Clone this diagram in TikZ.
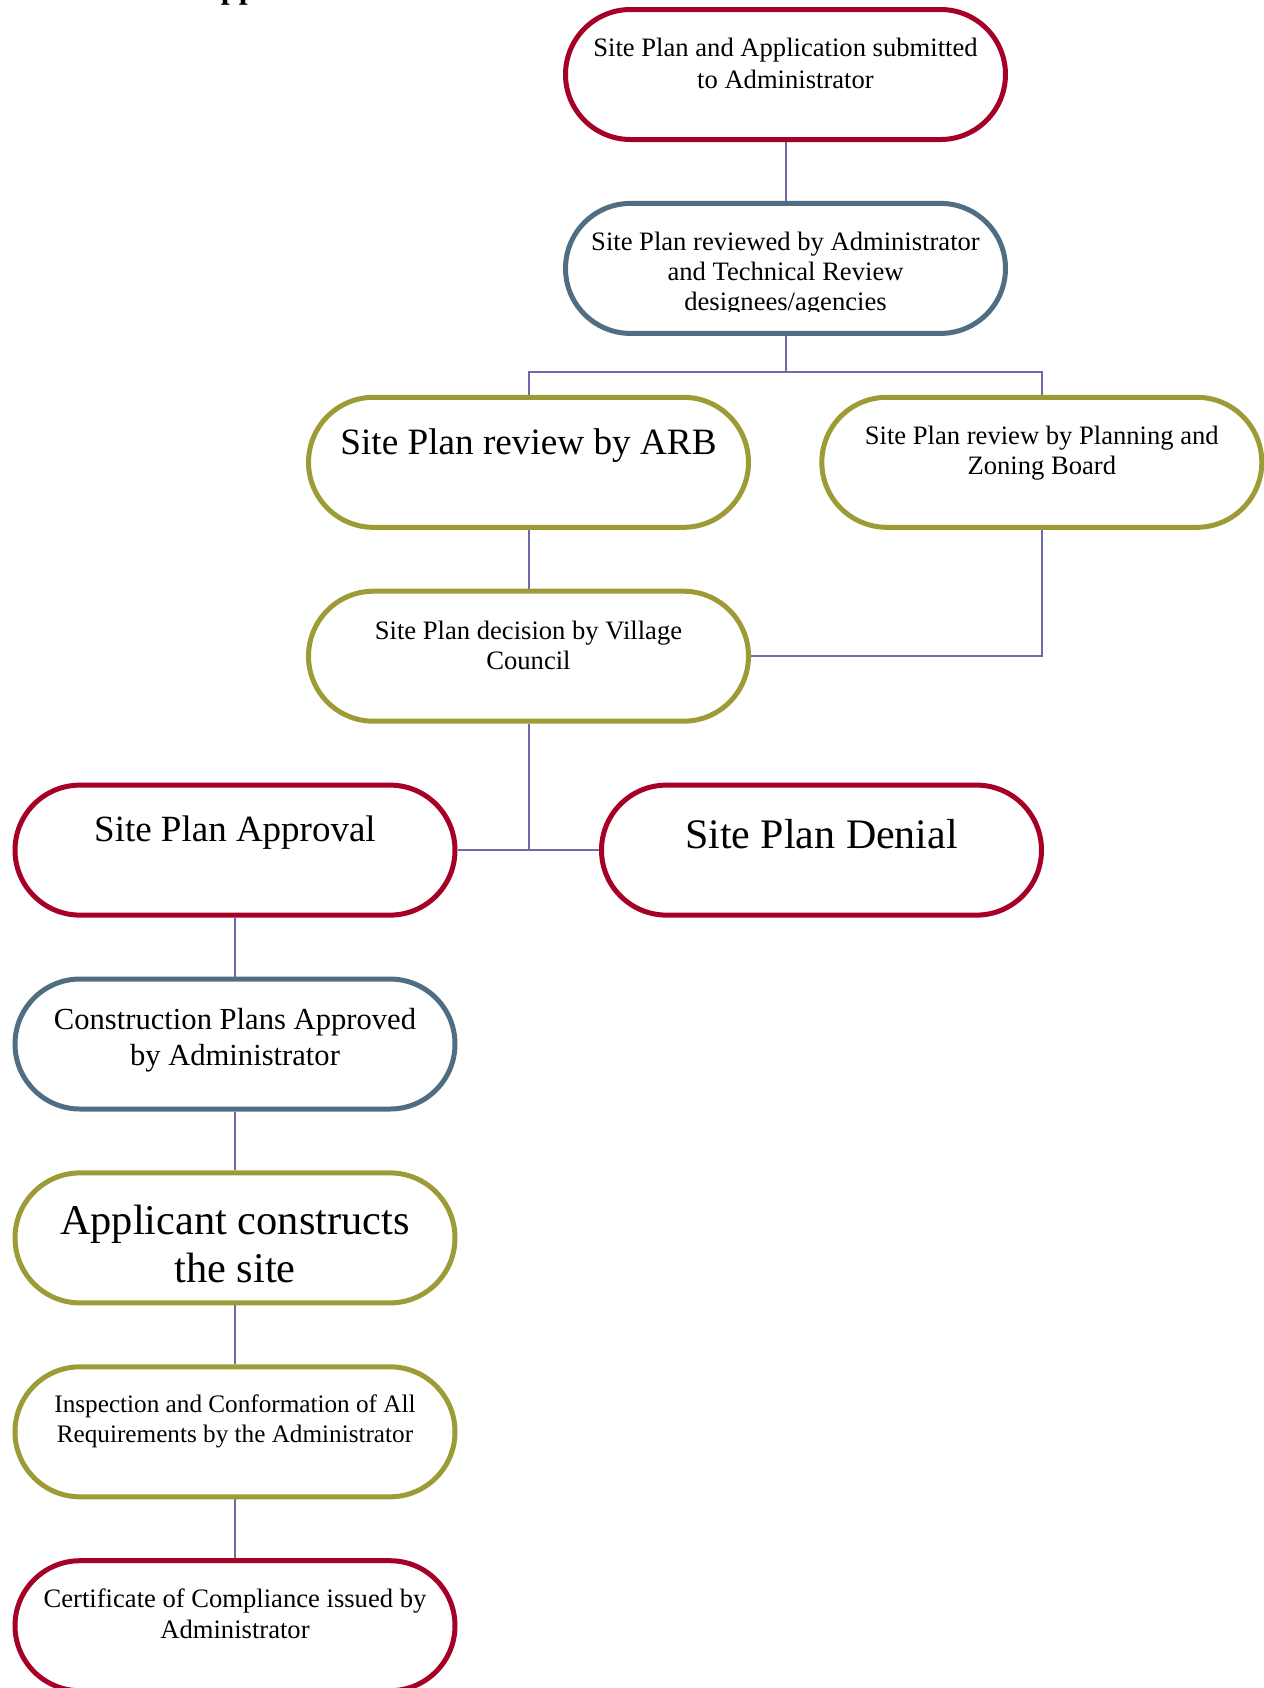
\documentclass[tikz,border=0pt]{standalone}
\usepackage{fontspec}
\setmainfont{Liberation Serif}
\usetikzlibrary{positioning}
\usetikzlibrary{backgrounds}

\definecolor{stagered}{RGB}{166,0,38}
\definecolor{stageslate}{RGB}{79,110,131}
\definecolor{stageolive}{RGB}{157,155,53}
\definecolor{linkblue}{RGB}{112,106,170}

% text of a stage, first baseline #1 below the top edge
\newcommand{\stagelines}[2]{%
  \parbox[c][65pt][t]{216pt}{\vspace*{\dimexpr#1-\ht\strutbox\relax}\centering\strut#2}}

\begin{document}
\begin{tikzpicture}[x=0.5pt, y=-0.5pt,
    stage/.style={draw=#1, line width=2.5pt, rounded corners=32.5pt, minimum width=220pt, minimum height=65pt, inner sep=0pt, fill=white},
    link/.style={draw=linkblue, line width=1pt}]

    \useasboundingbox (0,0) rectangle (1264,1688);

    \node (heading) [anchor=base west, font=\bfseries\fontsize{16}{19}\selectfont] at (61,-1.2) {Site Plan Approval Process};

    \begin{scope}[on grid]

        \node (submit) [stage=stagered, font=\fontsize{13.3}{16}\selectfont] at (785.5,74.5) {\stagelines{23.5pt}{Site Plan and Application submitted\\to Administrator}};

        \node (review) [stage=stageslate, below=96.95pt of submit] {};
        \begin{scope}
            \clip ([yshift=-55.5pt]review.north west) rectangle (review.north east);
            \node (review text) [inner sep=0pt, font=\fontsize{13.3}{15}\selectfont] at (review) {\stagelines{23.75pt}{Site Plan reviewed by Administrator\\and Technical Review\\designees/agencies}};
        \end{scope}

        \node (arb) [stage=stageolive, font=\fontsize{18.6}{22}\selectfont, below left=96.95pt and 128.5pt of review] {\stagelines{28.5pt}{Site Plan review by ARB}};
        \node (planning) [stage=stageolive, font=\fontsize{13.3}{15}\selectfont, below right=96.95pt and 128.15pt of review] {\stagelines{23.7pt}{Site Plan review by Planning and\\Zoning Board}};

        \node (council) [stage=stageolive, font=\fontsize{13.3}{15}\selectfont, below=96.95pt of arb] {\stagelines{24.2pt}{Site Plan decision by Village\\Council}};

        \node (approval) [stage=stagered, font=\fontsize{18.5}{22}\selectfont, below left=96.95pt and 146.75pt of council] {\stagelines{28pt}{Site Plan Approval}};
        \node (denial) [stage=stagered, font=\fontsize{21}{25}\selectfont, below right=96.95pt and 146.5pt of council] {\stagelines{31.5pt}{Site Plan Denial}};

        \node (construction) [stage=stageslate, font=\fontsize{15.3}{18.3}\selectfont, below=96.95pt of approval] {\stagelines{25pt}{Construction Plans Approved\\by Administrator}};
        \node (applicant) [stage=stageolive, font=\fontsize{21.2}{24.2}\selectfont, below=96.95pt of construction] {\stagelines{30.7pt}{Applicant constructs\\the site}};
        \node (inspection) [stage=stageolive, font=\fontsize{12.6}{15}\selectfont, below=96.95pt of applicant] {\stagelines{23pt}{Inspection and Conformation of All\\Requirements by the Administrator}};
        \node (certificate) [stage=stagered, font=\fontsize{13.3}{15.6}\selectfont, below=96.95pt of inspection] {\stagelines{23.2pt}{Certificate of Compliance issued by\\Administrator}};

    \end{scope}

    % connectors, behind the stages
    \begin{scope}[on background layer]
        \draw[link] (submit.south) -- (review.north);

        \coordinate (split) at ([yshift=-18pt]review.south);
        \draw[link] (review.south) -- (split);
        \draw[link] (split) -| (arb.north);
        \draw[link] (split) -| (planning.north);

        \draw[link] (arb.south) -- (council.north);
        \draw[link] (planning.south) |- (council.east);

        \coordinate (verdict) at (council.south |- approval.east);
        \draw[link] (council.south) -- (verdict);
        \draw[link] (approval.east) -- (denial.west);

        \draw[link] (approval.south) -- (construction.north);
        \draw[link] (construction.south) -- (applicant.north);
        \draw[link] (applicant.south) -- (inspection.north);
        \draw[link] (inspection.south) -- (certificate.north);
    \end{scope}

\end{tikzpicture}
\end{document}
